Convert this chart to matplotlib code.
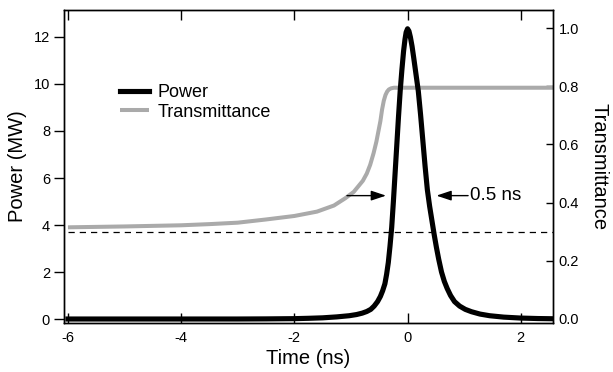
import matplotlib
matplotlib.use('Agg')
import matplotlib.pyplot as plt

plt.rcParams['font.family'] = ['Liberation Sans', 'DejaVu Sans']

# pulse power (MW) vs time (ns)
time_p = [-6.0, -3.0, -2.5, -2.0, -1.75, -1.5, -1.25, -1.03, -0.9, -0.8, -0.72, -0.65,
          -0.59, -0.53, -0.48, -0.44, -0.40, -0.37, -0.34, -0.31, -0.28, -0.25, -0.22,
          -0.19, -0.16, -0.13, -0.10, -0.07, -0.045, -0.025, 0.0,
          0.025, 0.05, 0.08, 0.11, 0.15, 0.19, 0.23, 0.27, 0.31, 0.35, 0.39, 0.43,
          0.47, 0.51, 0.55, 0.60, 0.65, 0.70, 0.76, 0.83, 0.92, 1.02, 1.13, 1.28,
          1.45, 1.7, 2.0, 2.3, 2.6]
power = [0.0, 0.0, 0.005, 0.015, 0.03, 0.05, 0.09, 0.14, 0.19, 0.25, 0.32, 0.41,
         0.55, 0.74, 0.96, 1.2, 1.5, 1.9, 2.4, 3.1, 3.9, 5.0, 6.2,
         7.4, 8.6, 9.7, 10.6, 11.4, 11.9, 12.2, 12.35,
         12.25, 12.0, 11.6, 11.1, 10.4, 9.7, 8.7, 7.6, 6.5, 5.5, 4.8, 4.2,
         3.6, 3.05, 2.55, 2.0, 1.6, 1.3, 1.0, 0.74, 0.55, 0.41, 0.31, 0.21,
         0.14, 0.08, 0.04, 0.02, 0.01]

# transmittance vs time (ns)
time_t = [-6.0, -5.0, -4.0, -3.5, -3.0, -2.5, -2.0, -1.6, -1.3, -1.1, -0.95, -0.79,
          -0.72, -0.66, -0.60, -0.55, -0.51, -0.48, -0.45, -0.42, -0.39, -0.36, -0.33,
          -0.29, -0.24, 2.6]
trans = [0.315, 0.318, 0.322, 0.326, 0.331, 0.342, 0.354, 0.369, 0.39, 0.415, 0.437, 0.475,
         0.50, 0.53, 0.57, 0.61, 0.65, 0.68, 0.72, 0.75, 0.77, 0.782, 0.789,
         0.793, 0.795, 0.795]

threshold = 0.30
fwhm_left = (-1.07, -0.38)
fwhm_right = (1.07, 0.51)
fwhm_level = 5.25
fwhm_text = '0.5 ns'

x_ticks = [-6, -4, -2, 0, 2]
p_ticks = [0, 2, 4, 6, 8, 10, 12]
t_ticks = [0.0, 0.2, 0.4, 0.6, 0.8, 1.0]

fig = plt.figure(figsize=(6.13, 3.72), dpi=100)
ax = fig.add_axes([64 / 613, 1 - 323 / 372, (553 - 64) / 613, (323 - 9.5) / 372])
ax2 = ax.twinx()
ax.set_zorder(2)
ax.patch.set_visible(False)

grey = '#aaaaaa'
l2, = ax2.plot(time_t, trans, color=grey, lw=2.9, label='Transmittance',
               solid_capstyle='butt', solid_joinstyle='round')
ax2.plot([-6.0, 2.6], [threshold, threshold], color='black', lw=0.9, ls=(0, (5, 4)))
l1, = ax.plot(time_p, power, color='black', lw=3.7, label='Power', solid_joinstyle='round')

ax.set_xlim(-6.07, 2.57)
ax.set_ylim(-0.17, 13.17)
ax2.set_ylim(-0.014, 1.064)

ax.set_xticks(x_ticks)
ax.set_xticklabels([str(v) for v in x_ticks])
ax.set_yticks(p_ticks)
ax2.set_yticks(t_ticks)
ax2.set_yticklabels(['%.1f' % v for v in t_ticks])

ax.xaxis.set_ticks_position('both')
ax.tick_params(axis='x', direction='in', length=7, width=1, labelsize=10.5, pad=6)
ax.tick_params(axis='y', direction='out', length=7, width=1, labelsize=10.5, pad=3)
ax2.tick_params(axis='y', direction='in', length=5, width=1, labelsize=10.5, pad=4)
for a in (ax, ax2):
    for s in a.spines.values():
        s.set_linewidth(1.0)

ax.set_xlabel('Time (ns)', fontsize=14.5, labelpad=3)
ax.set_ylabel('Power (MW)', fontsize=14.5, labelpad=5)
ax2.set_ylabel('Transmittance', fontsize=14.5, rotation=270, labelpad=21)

arrow = dict(arrowstyle='-|>,head_length=0.6,head_width=0.2', color='black', lw=1,
             mutation_scale=15, shrinkA=0, shrinkB=0)
ax.annotate('', xy=(fwhm_left[1], fwhm_level), xytext=(fwhm_left[0], fwhm_level), arrowprops=arrow)
ax.annotate('', xy=(fwhm_right[1], fwhm_level), xytext=(fwhm_right[0], fwhm_level), arrowprops=arrow)
ax.text(fwhm_right[0] + 0.04, fwhm_level, fwhm_text, fontsize=13.5, va='center', ha='left')

ax.legend(handles=[l1, l2], loc='upper left', bbox_to_anchor=(120 / 613, 1 - 84 / 372),
          bbox_transform=fig.transFigure, frameon=False, fontsize=13, handlelength=1.6,
          handletextpad=0.48, labelspacing=0.15, borderpad=0, borderaxespad=0)

fig.savefig('out.png', dpi=100)
